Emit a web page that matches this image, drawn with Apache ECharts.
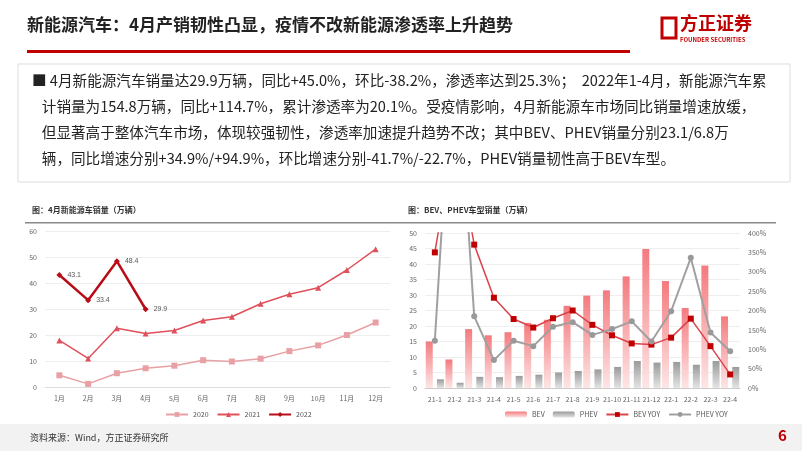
<!DOCTYPE html><html><head><meta charset="utf-8"><script src="https://cdn.jsdelivr.net/npm/echarts@6/dist/echarts.min.js"></script>
<style>html,body{margin:0;padding:0;background:#fff}#c{width:802px;height:451px}</style></head><body><div id="c"></div><script>
const months=['1月','2月','3月','4月','5月','6月','7月','8月','9月','10月','11月','12月'];
const s2020=[4.5,1.2,5.3,7.2,8.2,10.3,9.8,10.9,13.8,16,20,24.8];
const s2021=[17.9,11,22.6,20.6,21.7,25.6,27,32,35.7,38.2,45,53];
const s2022=[43.1,33.4,48.4,29.9];
const periods=['21-1','21-2','21-3','21-4','21-5','21-6','21-7','21-8','21-9','21-10','21-11','21-12','22-1','22-2','22-3','22-4'];
const bev=[15,9.2,19,17,18,21,22,26.5,29.8,31.5,36,44.8,34.5,25.8,39.5,23.1];
const phev=[2.8,1.7,3.6,3.5,3.9,4.3,5,5.5,6,6.8,8.7,8.2,8.4,7.5,8.7,6.8];
const bevYoy=[350,650,370,233,178,156,180,200,163,136,115,112,130,179,108,35];
const phevYoy=[122,950,185,72,122,108,158,170,137,152,172,120,198,336,143,95];
const F='"Noto Sans CJK SC",sans-serif';
const ax={color:'#666',fontSize:7,fontFamily:F};
const chart=echarts.init(document.getElementById('c'));
const gradR=new echarts.graphic.LinearGradient(0,0,0,1,[{offset:0,color:'#f47a7e'},{offset:1,color:'#fde6e6'}]);
const gradG=new echarts.graphic.LinearGradient(0,0,0,1,[{offset:0,color:'#9a9a9a'},{offset:1,color:'#e4e4e4'}]);
chart.setOption({animation:false,
graphic:[
{type:'text',left:27,top:16,style:{text:'新能源汽车：4月产销韧性凸显，疫情不改新能源渗透率上升趋势',font:'bold 17px '+F,fill:'#222'}},
{type:'rect',shape:{x:27,y:50,width:603,height:3},style:{fill:'#c00000'}},
{type:'rect',shape:{x:662,y:18,width:14,height:20},style:{fill:'none',stroke:'#c00000',lineWidth:3}},
{type:'text',left:680,top:14,style:{text:'方正证券',font:'bold 18px '+F,fill:'#c00000'}},
{type:'text',left:680,top:37,style:{text:'FOUNDER SECURITIES',font:'bold 6px '+F,fill:'#c00000'}},
{type:'rect',shape:{x:18,y:64,width:772,height:118},style:{fill:'none',stroke:'#ddd',lineWidth:1}},
{type:'text',left:32,top:67,style:{text:'■ 4月新能源汽车销量达29.9万辆，同比+45.0%，环比-38.2%，渗透率达到25.3%；  2022年1-4月，新能源汽车累\n   计销量为154.8万辆，同比+114.7%，累计渗透率为20.1%。受疫情影响，4月新能源车市场同比销量增速放缓，\n   但显著高于整体汽车市场，体现较强韧性，渗透率加速提升趋势不改；其中BEV、PHEV销量分别23.1/6.8万\n   辆，同比增速分别+34.9%/+94.9%，环比增速分别-41.7%/-22.7%，PHEV销量韧性高于BEV车型。',font:'14.6px '+F,fill:'#222',lineHeight:26}},
{type:'text',left:32,top:206,style:{text:'图：4月新能源车销量（万辆）',font:'bold 8px '+F,fill:'#333'}},
{type:'rect',shape:{x:25,y:222,width:375,height:1.5},style:{fill:'#888'}},
{type:'text',left:408,top:206,style:{text:'图：BEV、PHEV车型销量（万辆）',font:'bold 8px '+F,fill:'#333'}},
{type:'rect',shape:{x:400,y:222,width:376,height:1.5},style:{fill:'#888'}},
{type:'rect',shape:{x:0,y:424,width:802,height:27},style:{fill:'#f2f2f2'}},
{type:'text',left:30,top:433,style:{text:'资料来源：Wind，方正证券研究所',font:'9px '+F,fill:'#333'}},
{type:'text',left:778,top:428,style:{text:'6',font:'bold 15px '+F,fill:'#c00000'}}
],
grid:[{left:45,top:231,width:345,height:156},{left:425,top:233,width:315,height:155}],
legend:[{data:['2020','2021','2022'],left:160,top:406,itemWidth:22,itemHeight:6,textStyle:{fontSize:7,color:'#555',fontFamily:F}},
{data:['BEV','PHEV','BEV YOY','PHEV YOY'],left:500,top:406,itemWidth:22,itemHeight:6,textStyle:{fontSize:7,color:'#555',fontFamily:F}}],
xAxis:[{type:'category',gridIndex:0,data:months,axisLine:{lineStyle:{color:'#ddd'}},axisTick:{show:false},axisLabel:ax},
{type:'category',gridIndex:1,data:periods,axisLine:{lineStyle:{color:'#ccc'}},axisTick:{show:false},axisLabel:Object.assign({interval:0},ax)}],
yAxis:[{gridIndex:0,min:0,max:60,interval:10,axisLabel:ax,splitLine:{lineStyle:{color:'#eee'}}},
{gridIndex:1,min:0,max:50,interval:5,axisLabel:ax,splitLine:{lineStyle:{color:'#eee'}}},
{gridIndex:1,min:0,max:400,interval:50,axisLabel:Object.assign({formatter:'{value}%'},ax),splitLine:{show:false}}],
series:[
{name:'2020',type:'line',data:s2020,xAxisIndex:0,yAxisIndex:0,symbol:'rect',symbolSize:6,color:'#e8a0a4',lineStyle:{width:1.5}},
{name:'2021',type:'line',data:s2021,xAxisIndex:0,yAxisIndex:0,symbol:'triangle',symbolSize:6,color:'#e0505a',lineStyle:{width:1.5}},
{name:'2022',type:'line',data:s2022,xAxisIndex:0,yAxisIndex:0,symbol:'diamond',symbolSize:6,color:'#b80d18',lineStyle:{width:2.5},label:{show:true,position:'right',fontSize:7,color:'#555'}},
{name:'BEV',type:'bar',data:bev,xAxisIndex:1,yAxisIndex:1,barWidth:7,barGap:'60%',itemStyle:{color:gradR},color:'#f47a7e'},
{name:'PHEV',type:'bar',data:phev,xAxisIndex:1,yAxisIndex:1,barWidth:7,itemStyle:{color:gradG},color:'#aaa'},
{name:'BEV YOY',type:'line',data:bevYoy,xAxisIndex:1,yAxisIndex:2,symbol:'rect',symbolSize:6,color:'#c00000',lineStyle:{width:1.5,color:'#d9444c'},clip:true},
{name:'PHEV YOY',type:'line',data:phevYoy,xAxisIndex:1,yAxisIndex:2,symbol:'circle',symbolSize:6,color:'#999',lineStyle:{width:2,color:'#a0a0a0'},clip:true}
]});
</script></body></html>
